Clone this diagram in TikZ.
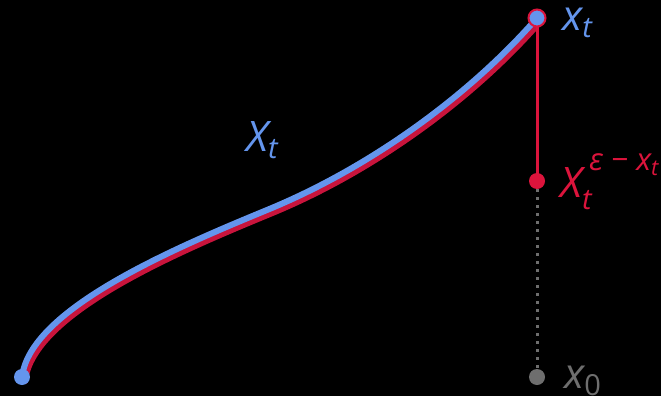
\documentclass[tikz,border=0pt]{standalone}
\usepackage{fontspec}
\setmainfont{Open Sans}
\usetikzlibrary{positioning}
\definecolor{pathblue}{HTML}{6495ED}
\definecolor{pathred}{HTML}{C8143C}
\definecolor{jumpred}{HTML}{DC143C}
\definecolor{startgray}{HTML}{6E6E6E}
\newcommand{\subf}{\fontsize{29}{34}\selectfont}
\newcommand{\supf}{\fontsize{31}{36}\selectfont}
\newcommand{\ssubf}{\fontsize{22}{26}\selectfont}
\newcommand{\trajpath}{(22,377) .. controls (30,310) and (170,250) .. (267,210)
  .. controls (367,169) and (467,98) .. (537,18)}

\begin{document}
\begin{tikzpicture}[
  x=1pt, y=-1pt,
  dot/.style={circle, inner sep=0pt, minimum size=16pt},
  lbl/.style={anchor=base west, inner sep=0pt, font=\fontsize{42}{48}\selectfont\itshape},
  curve/.style={line width=6pt, line cap=round}
]
\fill[black] (0,0) rectangle (661,396);
\useasboundingbox (0,0) rectangle (661,396);
% points
\coordinate (start) at (22,377);
\coordinate (top) at (537,18);
\coordinate (eps) at (537,181);
\coordinate (zero) at (537,377);
% the path X_t, red copy below the blue one
\draw[curve, pathred, shift={(3,4)}] \trajpath;
\draw[curve, pathblue] \trajpath;
\draw[jumpred, line width=3pt] (top) -- (eps);
\draw[startgray, line width=3pt, dash pattern=on 3pt off 5pt] (eps) -- (zero);
% dots
\node[dot, fill=pathblue] (s) at (start) {};
\node[dot, fill=startgray] (x0) at (zero) {};
\node[dot, fill=jumpred] (xe) at (eps) {};
\node[dot, fill=pathblue, draw=jumpred, line width=2pt, minimum size=17pt] (xt) at (top) {};
% labels
\node[lbl, pathblue] (lxt) at (562,31) {x\raisebox{-7pt}{\subf t}};
\node[lbl, pathblue] (lXt) at (246,151) {X\raisebox{-7pt}{\subf t}};
\node[lbl, jumpred] (lxe) at (560,197)
  {X\rlap{\raisebox{-12pt}{\subf t}}\hspace{7pt}\raisebox{27pt}{\supf ε − x\raisebox{-5pt}{\ssubf t}}};
\node[lbl, startgray] (lx0) at (564,388) {x\raisebox{-7pt}{\subf\upshape 0}};
\end{tikzpicture}
\end{document}
